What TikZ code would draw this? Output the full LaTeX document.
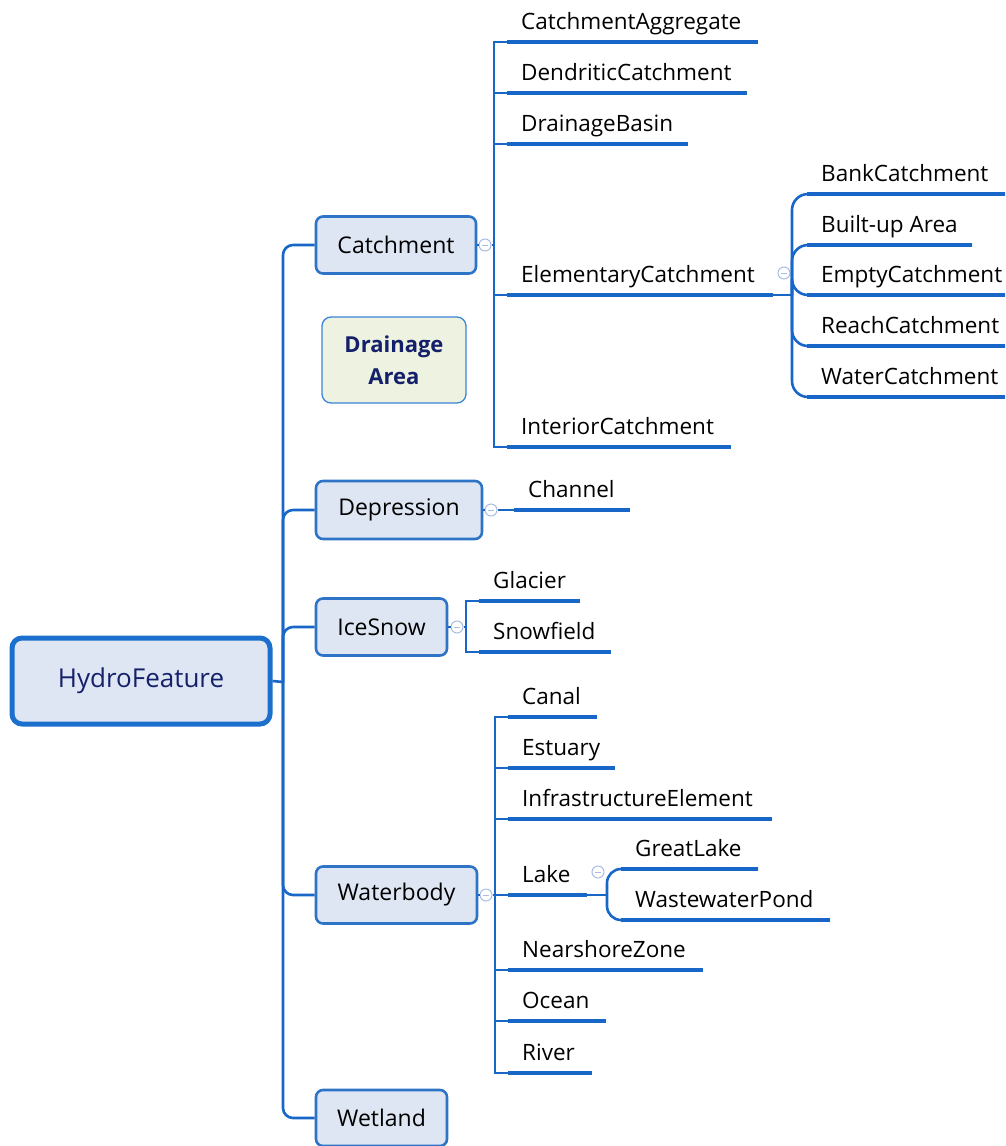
\documentclass[tikz,border=0pt]{standalone}
\usepackage{fontspec}
\setmainfont{Open Sans}
\definecolor{lineblue}{HTML}{1766C8}
\definecolor{boxblue}{HTML}{2E74C6}
\definecolor{boxfill}{HTML}{DDE6F2}
\definecolor{rootblue}{HTML}{1A70CC}
\definecolor{foldblue}{HTML}{A8BDE3}
\definecolor{navy}{HTML}{15206B}
\definecolor{notefill}{HTML}{EEF2E0}
\definecolor{noteblue}{HTML}{3B84D6}
% a leaf: text sitting on an underline that is fed from a junction
\newcommand\leafitem[7][]{%
  \node[leaf] (#2) at (#4,#5-13) {#7};
  \coordinate (#2-end) at (#6,#5);
  \draw[conn,#1] (#3) |- (#2-end);
  \draw[uline] (#4-14,#5) -- (#2-end);}
\begin{document}
\begin{tikzpicture}[x=1pt,y=-1pt,
  conn/.style={draw=lineblue, line width=2.6pt},
  uline/.style={draw=lineblue, line width=3.3pt},
  rootbox/.style={draw=rootblue, fill=boxfill, line width=5pt, rounded corners=10pt,
    text=navy, font=\fontsize{26}{30}\selectfont, inner sep=0pt},
  topic/.style={draw=boxblue, fill=boxfill, line width=2.6pt, rounded corners=7pt,
    text=black, font=\fontsize{23}{27}\selectfont, inner sep=0pt},
  notebox/.style={draw=noteblue, fill=notefill, line width=1.3pt, rounded corners=9pt,
    text=navy, font=\fontsize{22}{32}\selectfont\bfseries, align=center, inner sep=0pt},
  leaf/.style={anchor=base west, inner sep=0pt, text=black, font=\fontsize{22.5}{27}\selectfont},
  fold/.style={circle, draw=foldblue, line width=1pt, fill=white, minimum size=12pt, inner sep=0pt,
    path picture={\draw[foldblue, line width=0.9pt]
      ([xshift=-3pt]path picture bounding box.center) -- ([xshift=3pt]path picture bounding box.center);}}
]
\useasboundingbox (0,0) rectangle (1005,1146);

% root and first-level topics
\node[rootbox, minimum width=258pt, minimum height=86pt] (hf) at (141,681) {HydroFeature};
\node[topic, minimum width=160pt, minimum height=57pt] (cat) at (396,245) {Catchment};
\node[notebox, minimum width=144pt, minimum height=86pt] (da) at (394,360) {Drainage\\Area};
\node[topic, minimum width=166pt, minimum height=58pt] (dep) at (399,510) {Depression};
\node[topic, minimum width=131pt, minimum height=57pt] (ice) at (381.5,627) {IceSnow};
\node[topic, minimum width=161pt, minimum height=57pt] (wat) at (396.5,895) {Waterbody};
\node[topic, minimum width=131pt, minimum height=56pt] (wet) at (381.5,1118) {Wetland};

% trunk from the root
\coordinate (tr) at (283,682);
\draw[conn] (hf.east) -- (tr);
\foreach \t in {cat,dep,ice,wat,wet}
  \draw[conn, rounded corners=10pt] (tr) |- (\t.west);

% Catchment branch
\node[fold] (fcat) at (485,245) {};
\coordinate (cj) at (494,245);
\draw[conn] (cat.east) -- (fcat.west);
\draw[conn] (fcat.east) -- (cj);
\leafitem{ca}{cj}{521}{42}{758}{CatchmentAggregate}
\leafitem{dc}{cj}{521}{93}{747}{DendriticCatchment}
\leafitem{db}{cj}{521}{144}{688}{DrainageBasin}
\leafitem{el}{cj}{521}{295}{773}{ElementaryCatchment}
\leafitem{ic}{cj}{521}{447}{731}{InteriorCatchment}

% ElementaryCatchment branch
\node[fold] (fel) at (784,273) {};
\coordinate (ej) at (792,295);
\draw[conn, line width=1.8pt] (el-end) -- (ej);
\leafitem[rounded corners=16pt]{bk}{ej}{821}{194}{1005}{BankCatchment}
\leafitem[rounded corners=16pt]{bu}{ej}{821}{245}{972}{Built-up Area}
\leafitem[rounded corners=16pt]{em}{ej}{821}{295}{1005}{EmptyCatchment}
\leafitem[rounded corners=16pt]{rc}{ej}{821}{346}{1005}{ReachCatchment}
\leafitem[rounded corners=16pt]{wc}{ej}{821}{397}{1005}{WaterCatchment}

% Depression branch
\node[fold] (fdep) at (491,510) {};
\draw[conn] (dep.east) -- (fdep.west);
\leafitem{ch}{fdep.east}{528}{510}{630}{Channel}

% IceSnow branch
\node[fold] (fice) at (457,627) {};
\coordinate (ij) at (466,627);
\draw[conn] (ice.east) -- (fice.west);
\draw[conn] (fice.east) -- (ij);
\leafitem{gl}{ij}{493}{601}{580}{Glacier}
\leafitem{sf}{ij}{493}{652}{611}{Snowfield}

% Waterbody branch
\node[fold] (fwat) at (486,895) {};
\coordinate (wj) at (495,895);
\draw[conn] (wat.east) -- (fwat.west);
\draw[conn] (fwat.east) -- (wj);
\leafitem{cn}{wj}{522}{717}{597}{Canal}
\leafitem{es}{wj}{522}{768}{615}{Estuary}
\leafitem{ie}{wj}{522}{819}{772}{InfrastructureElement}
\leafitem{lk}{wj}{522}{895}{587}{Lake}
\leafitem{nz}{wj}{522}{970}{703}{NearshoreZone}
\leafitem{oc}{wj}{522}{1021}{606}{Ocean}
\leafitem{rv}{wj}{522}{1073}{592}{River}

% Lake branch
\node[fold] (flk) at (598,872) {};
\coordinate (lj) at (607,895);
\draw[conn, line width=1.8pt] (lk-end) -- (lj);
\leafitem[rounded corners=14pt]{gk}{lj}{635}{869}{758}{GreatLake}
\leafitem[rounded corners=14pt]{wp}{lj}{635}{920}{830}{WastewaterPond}
\end{tikzpicture}
\end{document}
